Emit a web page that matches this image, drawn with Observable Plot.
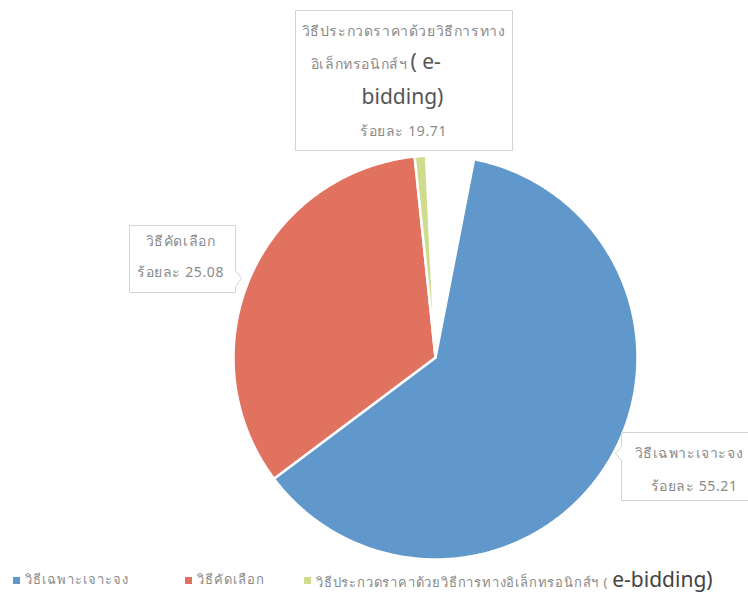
<!DOCTYPE html>
<html><head><meta charset="utf-8">
<script src="https://cdn.jsdelivr.net/npm/d3@7"></script>
<script src="https://cdn.jsdelivr.net/npm/@observablehq/plot@0.6"></script>
<style>
body{margin:0;background:#fff;font-family:"Noto Sans","DejaVu Sans",sans-serif;}
#wrap{position:relative;width:748px;height:594px;}
#legend{position:absolute;left:0;top:565px;width:748px;height:29px;}
.sw{position:absolute;top:12px;width:7px;height:7px;}
.lt{position:absolute;top:0;font-size:13px;letter-spacing:1px;color:#8a8a8a;white-space:nowrap;line-height:29px;}
.big{font-size:21px;color:#444;letter-spacing:0;}
</style></head><body><div id="wrap"><div id="chart"></div><div id="legend"></div></div><script>
const categories = ["วิธีเฉพาะเจาะจง", "วิธีคัดเลือก", "วิธีประกวดราคาด้วยวิธีการทางอิเล็กทรอนิกส์ฯ ( e-bidding)"];
const percentLabels = ["ร้อยละ 55.21", "ร้อยละ 25.08", "ร้อยละ 19.71"];
const drawnShare = [61.7, 33.6, 0.9]; // share of the full circle as drawn in the picture (%)
const colors = ["#6198cb", "#e1725f", "#cfdc8e"];

const W = 748, H = 565;
const cx = 435, cy = 357, R = 202;       // pie layout
const startDeg = 11;
const X = px => (px - cx) / R, Y = py => (cy - py) / R;

// slices built from data
const pts = [];
let a = startDeg / 180 * Math.PI;
categories.forEach((c, i) => {
  const a0 = a, a1 = a + drawnShare[i] / 100 * 2 * Math.PI; a = a1;
  pts.push({k: c, x: 0, y: 0});
  const n = Math.max(4, Math.ceil((a1 - a0) / 0.01));
  for (let j = 0; j <= n; j++) {
    const t = a0 + (a1 - a0) * j / n;
    pts.push({k: c, x: Math.sin(t), y: Math.cos(t)});
  }
  pts.push({k: c, x: 0, y: 0});
});

// callout boxes (pixel layout)
const boxes = [
  {k: "top", p: [[295,10],[512,10],[512,150],[295,150],[295,10]]},
  {k: "left", p: [[129,225],[235,225],[235,270],[241,278],[235,286],[235,292],[129,292],[129,225]]},
  {k: "right", p: [[621,432],[760,432],[760,500],[621,500],[621,460],[615,453],[621,446],[621,432]]}
];
const boxPts = boxes.flatMap(b => b.p.map(([x, y]) => ({k: b.k, x: X(x), y: Y(y)})));

const small = [
  {t: "วิธีประกวดราคาด้วยวิธีการทาง", x: 403, y: 31, a: "middle"},
  {t: "อิเล็กทรอนิกส์ฯ", x: 407, y: 64, a: "end"},
  {t: percentLabels[2], x: 403, y: 131, a: "middle"},
  {t: "วิธีคัดเลือก", x: 180, y: 241, a: "middle"},
  {t: percentLabels[1], x: 180, y: 272, a: "middle"},
  {t: "วิธีเฉพาะเจาะจง", x: 634, y: 453, a: "start"},
  {t: percentLabels[0], x: 650, y: 486, a: "start"}
];
const big = [
  {t: "( e-", x: 410, y: 62, a: "start"},
  {t: "bidding)", x: 402, y: 97, a: "middle"}
];

const plot = Plot.plot({
  width: W, height: H, margin: 0,
  x: {domain: [X(0), X(W)], range: [0, W], axis: null},
  y: {domain: [Y(H), Y(0)], range: [H, 0], axis: null},
  color: {domain: categories, range: colors},
  style: {background: "#fff"},
  marks: [
    Plot.line(pts, {x: "x", y: "y", z: "k", fill: "k", stroke: "white", strokeWidth: 2.5, curve: "linear"}),
    Plot.line(boxPts, {x: "x", y: "y", z: "k", stroke: "#d4d4d4", strokeWidth: 1, fill: "white"}),
    ...["start", "middle", "end"].map(an =>
      Plot.text(small.filter(d => d.a === an), {x: d => X(d.x), y: d => Y(d.y), text: "t", textAnchor: an, fontSize: 14, fill: "#8a8a8a"})),
    ...["start", "middle"].map(an =>
      Plot.text(big.filter(d => d.a === an), {x: d => X(d.x), y: d => Y(d.y), text: "t", textAnchor: an, fontSize: 21, fill: "#555"}))
  ]
});
d3.select(plot).selectAll("g[font-size='14'] text").style("letter-spacing", "0.6px");
document.getElementById("chart").appendChild(plot);

// legend
const leg = document.getElementById("legend");
const legX = [13, 185, 304];
categories.forEach((c, i) => {
  const sw = document.createElement("div");
  sw.className = "sw"; sw.style.left = legX[i] + "px"; sw.style.background = colors[i];
  leg.appendChild(sw);
  const t = document.createElement("div");
  t.className = "lt"; t.style.left = (legX[i] + 12) + "px";
  const m = c.match(/^(.*\()\s*(e-bidding\))$/);
  if (m) { t.innerHTML = m[1] + " <span class='big'>" + m[2] + "</span>"; t.style.letterSpacing = "0.8px"; }
  else t.textContent = c;
  leg.appendChild(t);
});
</script></body></html>
